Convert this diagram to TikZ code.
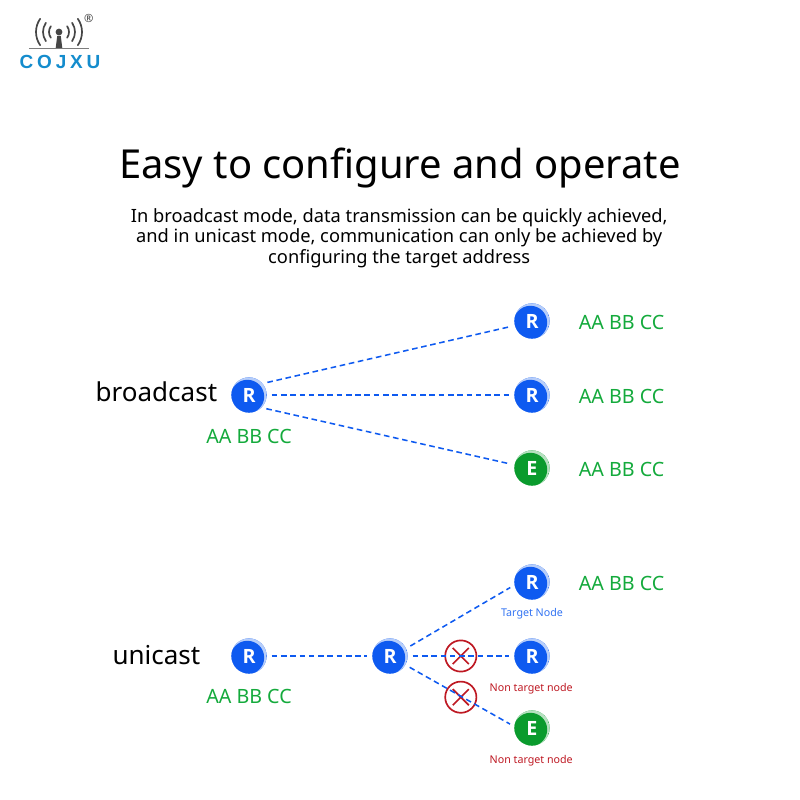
\documentclass[tikz,border=0pt]{standalone}
\usepackage{fontspec}
\setmainfont{Noto Sans}
\newfontfamily\heavyfont{Open Sans}
\newfontfamily\brandfont[LetterSpace=20]{Liberation Sans}
\usetikzlibrary{shapes.misc, positioning, calc}
\definecolor{rblue}{RGB}{14,90,240}
\definecolor{egreen}{RGB}{10,155,45}
\definecolor{addrgreen}{RGB}{20,170,60}
\definecolor{xred}{RGB}{190,25,35}
\definecolor{logoblue}{RGB}{20,140,205}
\definecolor{logogray}{RGB}{70,70,70}

\begin{document}
\begin{tikzpicture}[
  rnode/.style={
    circle, fill=rblue, text=white, minimum size=0.88cm, inner sep=0pt,
    font=\heavyfont\fontsize{14}{14}\selectfont\bfseries,
    path picture={
      \fill[rblue!30] (path picture bounding box.center) circle (0.44);
      \fill[rblue] ($(path picture bounding box.center)+(-0.04,-0.04)$) circle (0.42);
    }
  },
  enode/.style={
    circle, fill=egreen, text=white, minimum size=0.88cm, inner sep=0pt,
    font=\heavyfont\fontsize{14}{14}\selectfont\bfseries,
    path picture={
      \fill[egreen!30] (path picture bounding box.center) circle (0.44);
      \fill[egreen] ($(path picture bounding box.center)+(-0.04,-0.04)$) circle (0.42);
    }
  },
  addr/.style={text=addrgreen, font=\fontsize{14}{14}\selectfont},
  mode/.style={text=black, font=\fontsize{18.5}{18.5}\selectfont},
  tag/.style={font=\fontsize{7.6}{7.6}\selectfont},
  link/.style={rblue, line width=1.1pt, dash pattern=on 4pt off 2.6pt, shorten >=1.2mm, shorten <=1.2mm},
  nogo/.style={circle, draw=xred, line width=1.2pt, minimum size=0.78cm, inner sep=0pt},
  nox/.style={cross out, draw=xred, line width=1.2pt, minimum size=0.36cm, inner sep=0pt},
  wave/.style={logogray, line width=1.2pt, line cap=round}
]
\useasboundingbox (0,0) rectangle (20,20);

% Logo
\fill[logogray] (1.475,19.2) circle (0.085);
\fill[logogray] (1.43,19.1) -- (1.52,19.1) -- (1.56,18.78) -- (1.39,18.78) -- cycle;
\draw[logogray!70, line width=0.6pt] (0.72,18.78) -- (2.22,18.78);
\foreach \r in {0.25,0.4,0.575}{
  \draw[wave] ($(1.475,19.2)+(145:\r)$) arc (145:215:\r);
  \draw[wave] ($(1.475,19.2)+(35:\r)$) arc (35:-35:\r);
}
\node[text=logoblue, font=\brandfont\fontsize{13.5}{13.5}\selectfont\bfseries] (brand) at (1.5,18.44) {COJXU};
\node[text=logogray, font=\fontsize{8}{8}\selectfont] (reg) at (2.22,19.55) {®};

% Heading
\node[font=\fontsize{28.4}{28.4}\selectfont] (title) at (10,15.8) {Easy to configure and operate};
\node[align=center, font=\fontsize{13}{14.6}\selectfont] (intro) at (9.98,14.05)
{In broadcast mode, data transmission can be quickly achieved,\\
 and in unicast mode, communication can only be achieved by\\
 configuring the target address};

% Broadcast
\node[mode] (bname) at (3.91,10.2) {broadcast};
\node[rnode] (bsrc) at (6.225,10.125) {R};
\node[rnode] (bup) at (13.3,11.975) {R};
\node[rnode] (bmid) at (13.3,10.125) {R};
\node[enode] (bend) at (13.3,8.3) {E};
\node[addr] (bsrcaddr) at (6.225,9.1) {AA BB CC};
\node[addr] (bupaddr) at (15.54,11.93) {AA BB CC};
\node[addr] (bmidaddr) at (15.54,10.09) {AA BB CC};
\node[addr] (bendaddr) at (15.54,8.27) {AA BB CC};

\draw[link] (bsrc.40) -- (bup.195);
\draw[link] (bsrc) -- (bmid);
\draw[link] (bsrc.-45) -- (bend.170);

% Unicast
\node[mode] (uname) at (3.91,3.62) {unicast};
\node[rnode] (usrc) at (6.225,3.6) {R};
\node[rnode] (urelay) at (9.75,3.6) {R};
\node[rnode] (utarget) at (13.3,5.45) {R};
\node[rnode] (uother) at (13.3,3.6) {R};
\node[enode] (uend) at (13.3,1.8) {E};
\node[addr] (usrcaddr) at (6.225,2.58) {AA BB CC};
\node[addr] (utargetaddr) at (15.54,5.42) {AA BB CC};
\node[tag, text=rblue!85] (ttarget) at (13.3,4.65) {Target Node};
\node[tag, text=xred] (tother) at (13.28,2.79) {Non target node};
\node[tag, text=xred] (tend) at (13.28,0.98) {Non target node};

% Blocked paths
\node[nogo] (block1) at (11.52,3.6) {};
\node[nogo] (block2) at (11.52,2.57) {};
\node[nox] (cross1) at (block1) {};
\node[nox] (cross2) at (block2) {};

\draw[link] (usrc) -- (urelay);
\draw[link] (urelay.25) -- (utarget.190);
\draw[link] (urelay) -- (uother);
\draw[link] (urelay.-30) -- (uend.175);
\end{tikzpicture}
\end{document}
